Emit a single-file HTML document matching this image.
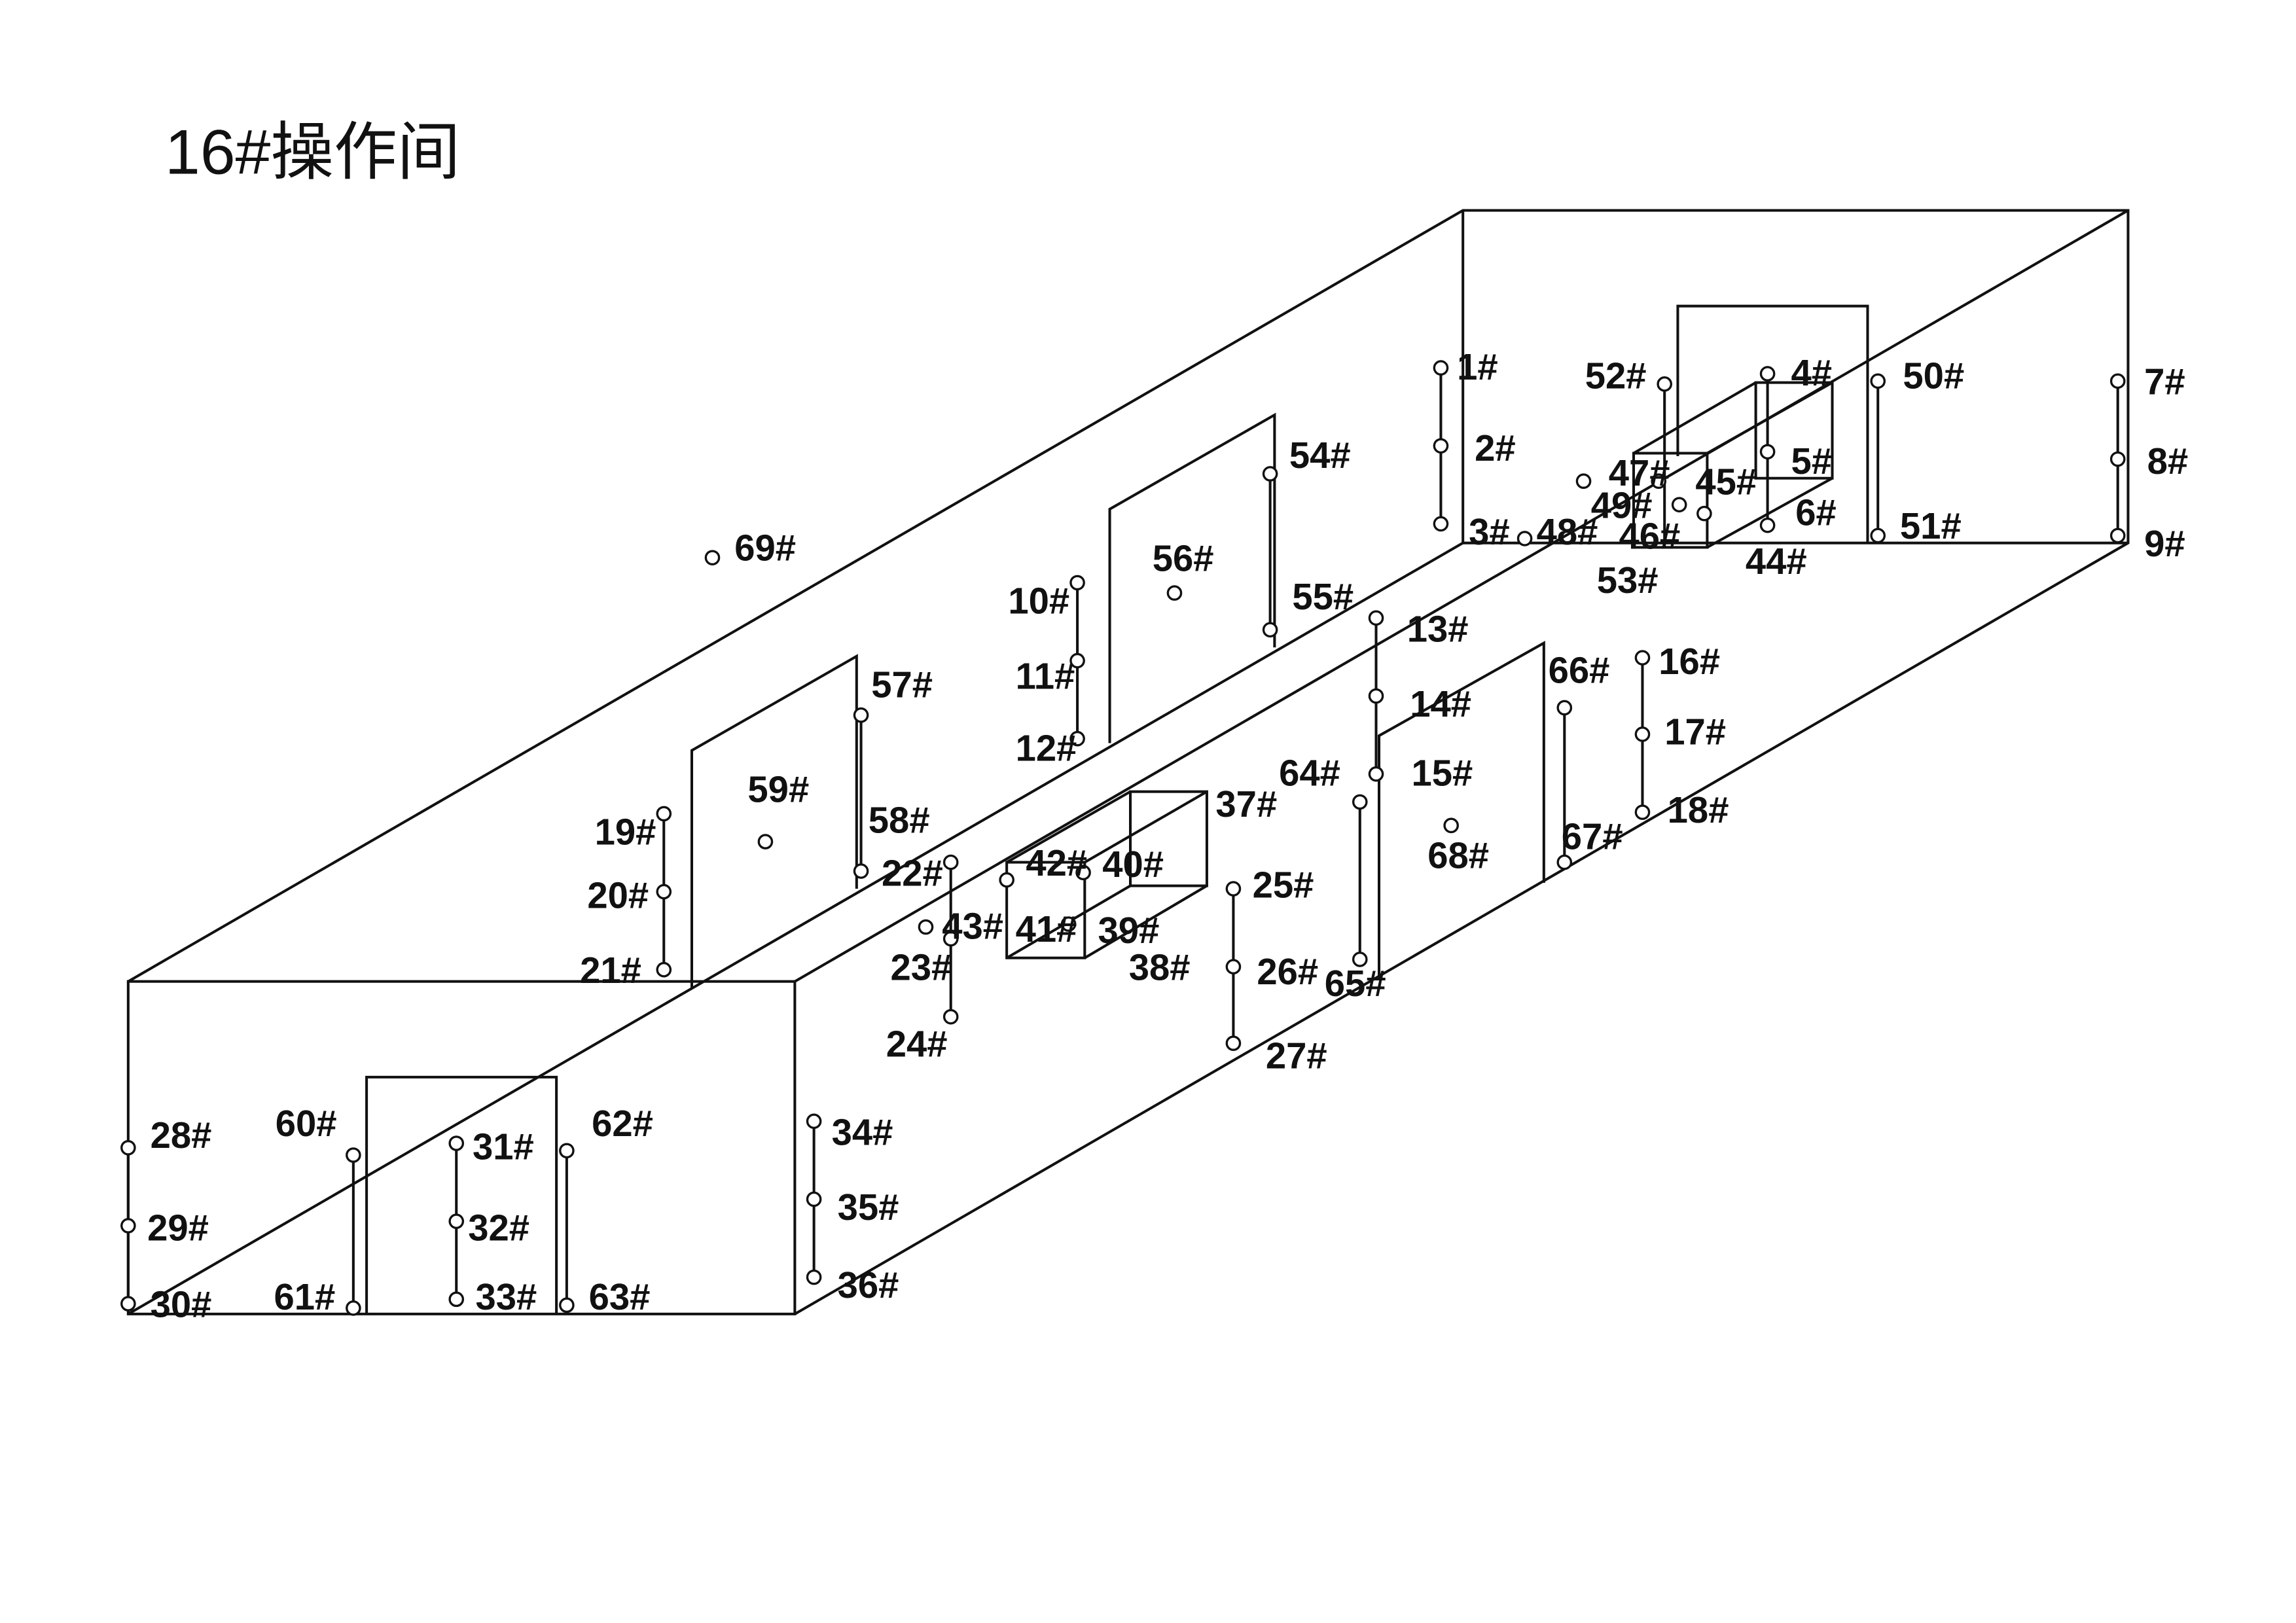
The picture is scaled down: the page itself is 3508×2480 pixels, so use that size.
<!DOCTYPE html>
<html><head><meta charset="utf-8"><style>
html,body{margin:0;padding:0;background:#fff;}
svg{display:block;}
text{font-family:"Liberation Sans","Noto Sans CJK SC",sans-serif;font-weight:bold;font-size:25px;fill:#111;}
</style></head><body>
<svg width="3508" height="2480" viewBox="0 0 1560 1103" xmlns="http://www.w3.org/2000/svg">
<rect width="1560" height="1103" fill="#fff"/>
<text x="112" y="118" style="font-weight:normal;font-size:43px">16#操作间</text>
<g stroke="#111" stroke-width="1.8" fill="none">
<polyline points="87,667 994,143 1446,143 1446,369 540,893"/>
<rect x="87" y="667" width="453" height="226"/>
<line x1="540" y1="667" x2="1446" y2="143"/>
<line x1="87" y1="893" x2="994" y2="369"/>
<line x1="994" y1="143" x2="994" y2="369"/>
<line x1="994" y1="369" x2="1446" y2="369"/>
<polyline points="470,672 470,510 582,446 582,604"/>
<polyline points="754,505 754,346 866,282 866,440"/>
<polyline points="937,665 937,500 1049,437 1049,600"/>
<polyline points="249,807 249,732 378,732 378,893"/>
<line x1="249" y1="807" x2="249" y2="893"/>
<polyline points="1140,310 1140,208 1269,208 1269,369"/>
<rect x="1110" y="308" width="50" height="64"/>
<rect x="1193" y="260" width="52" height="65"/>
<line x1="1110" y1="308" x2="1193" y2="260"/>
<line x1="1160" y1="308" x2="1245" y2="260"/>
<line x1="1160" y1="372" x2="1245" y2="325"/>
<rect x="684" y="586" width="53" height="65"/>
<rect x="768" y="538" width="52" height="64"/>
<line x1="684" y1="586" x2="768" y2="538"/>
<line x1="737" y1="586" x2="820" y2="538"/>
<line x1="737" y1="651" x2="820" y2="602"/>
<line x1="684" y1="651" x2="768" y2="602"/>
<line x1="979" y1="250" x2="979" y2="356"/>
<line x1="1201" y1="254" x2="1201" y2="357"/>
<line x1="1276" y1="259" x2="1276" y2="364"/>
<line x1="1439" y1="259" x2="1439" y2="364"/>
<line x1="1131" y1="261" x2="1131" y2="372"/>
<line x1="732" y1="396" x2="732" y2="502"/>
<line x1="863" y1="322" x2="863" y2="428"/>
<line x1="585" y1="486" x2="585" y2="592"/>
<line x1="451" y1="553" x2="451" y2="659"/>
<line x1="646" y1="586" x2="646" y2="691"/>
<line x1="838" y1="604" x2="838" y2="709"/>
<line x1="924" y1="545" x2="924" y2="652"/>
<line x1="935" y1="420" x2="935" y2="526"/>
<line x1="1063" y1="481" x2="1063" y2="586"/>
<line x1="1116" y1="447" x2="1116" y2="552"/>
<line x1="87" y1="780" x2="87" y2="886"/>
<line x1="240" y1="785" x2="240" y2="889"/>
<line x1="310" y1="777" x2="310" y2="883"/>
<line x1="385" y1="782" x2="385" y2="887"/>
<line x1="553" y1="762" x2="553" y2="868"/>
</g>
<g stroke="#111" stroke-width="1.5" fill="#fff">
<circle cx="979" cy="250" r="4.5"/><circle cx="979" cy="303" r="4.5"/><circle cx="979" cy="356" r="4.5"/>
<circle cx="1201" cy="254" r="4.5"/><circle cx="1201" cy="307" r="4.5"/><circle cx="1201" cy="357" r="4.5"/>
<circle cx="1276" cy="259" r="4.5"/><circle cx="1276" cy="364" r="4.5"/>
<circle cx="1439" cy="259" r="4.5"/><circle cx="1439" cy="312" r="4.5"/><circle cx="1439" cy="364" r="4.5"/>
<circle cx="1131" cy="261" r="4.5"/><circle cx="1127" cy="327" r="4.5"/><circle cx="1141" cy="343" r="4.5"/>
<circle cx="1036" cy="366" r="4.5"/><circle cx="1158" cy="349" r="4.5"/><circle cx="1076" cy="327" r="4.5"/>
<circle cx="732" cy="396" r="4.5"/><circle cx="732" cy="449" r="4.5"/><circle cx="732" cy="502" r="4.5"/>
<circle cx="863" cy="322" r="4.5"/><circle cx="863" cy="428" r="4.5"/>
<circle cx="798" cy="403" r="4.5"/><circle cx="484" cy="379" r="4.5"/>
<circle cx="585" cy="486" r="4.5"/><circle cx="585" cy="592" r="4.5"/>
<circle cx="520" cy="572" r="4.5"/>
<circle cx="451" cy="553" r="4.5"/><circle cx="451" cy="606" r="4.5"/><circle cx="451" cy="659" r="4.5"/>
<circle cx="646" cy="586" r="4.5"/><circle cx="646" cy="638" r="4.5"/><circle cx="646" cy="691" r="4.5"/>
<circle cx="629" cy="630" r="4.5"/><circle cx="684" cy="598" r="4.5"/><circle cx="736" cy="593" r="4.5"/><circle cx="726" cy="628" r="4.5"/>
<circle cx="838" cy="604" r="4.5"/><circle cx="838" cy="657" r="4.5"/><circle cx="838" cy="709" r="4.5"/>
<circle cx="924" cy="545" r="4.5"/><circle cx="924" cy="652" r="4.5"/>
<circle cx="935" cy="420" r="4.5"/><circle cx="935" cy="473" r="4.5"/><circle cx="935" cy="526" r="4.5"/>
<circle cx="1063" cy="481" r="4.5"/><circle cx="1063" cy="586" r="4.5"/>
<circle cx="1116" cy="447" r="4.5"/><circle cx="1116" cy="499" r="4.5"/><circle cx="1116" cy="552" r="4.5"/>
<circle cx="986" cy="561" r="4.5"/>
<circle cx="87" cy="780" r="4.5"/><circle cx="87" cy="833" r="4.5"/><circle cx="87" cy="886" r="4.5"/>
<circle cx="240" cy="785" r="4.5"/><circle cx="240" cy="889" r="4.5"/>
<circle cx="310" cy="777" r="4.5"/><circle cx="310" cy="830" r="4.5"/><circle cx="310" cy="883" r="4.5"/>
<circle cx="385" cy="782" r="4.5"/><circle cx="385" cy="887" r="4.5"/>
<circle cx="553" cy="762" r="4.5"/><circle cx="553" cy="815" r="4.5"/><circle cx="553" cy="868" r="4.5"/>
</g>
<g>
<text x="990" y="258">1#</text><text x="1002" y="313">2#</text><text x="998" y="370">3#</text>
<text x="1217" y="262">4#</text><text x="1217" y="322">5#</text><text x="1220" y="357">6#</text>
<text x="1293" y="264">50#</text><text x="1291" y="366">51#</text>
<text x="1457" y="268">7#</text><text x="1459" y="322">8#</text><text x="1457" y="378">9#</text>
<text x="1077" y="264">52#</text><text x="1093" y="330">47#</text><text x="1081" y="352">49#</text>
<text x="1044" y="370">48#</text><text x="1100" y="373">46#</text><text x="1152" y="336">45#</text>
<text x="1186" y="390">44#</text><text x="1085" y="403">53#</text>
<text x="685" y="417">10#</text><text x="690" y="468">11#</text><text x="690" y="517">12#</text>
<text x="876" y="318">54#</text><text x="878" y="414">55#</text>
<text x="783" y="388">56#</text><text x="499" y="381">69#</text>
<text x="592" y="474">57#</text><text x="590" y="566">58#</text><text x="508" y="545">59#</text>
<text x="404" y="574">19#</text><text x="399" y="617">20#</text><text x="394" y="668">21#</text>
<text x="599" y="602">22#</text><text x="605" y="666">23#</text><text x="602" y="718">24#</text>
<text x="640" y="638">43#</text><text x="697" y="595">42#</text><text x="749" y="596">40#</text>
<text x="690" y="640">41#</text><text x="746" y="641">39#</text><text x="767" y="666">38#</text>
<text x="826" y="555">37#</text>
<text x="851" y="610">25#</text><text x="854" y="669">26#</text><text x="860" y="726">27#</text>
<text x="869" y="534">64#</text><text x="900" y="677">65#</text>
<text x="956" y="436">13#</text><text x="958" y="487">14#</text><text x="959" y="534">15#</text>
<text x="1052" y="464">66#</text><text x="1061" y="577">67#</text>
<text x="1127" y="458">16#</text><text x="1131" y="506">17#</text><text x="1133" y="559">18#</text>
<text x="970" y="590">68#</text>
<text x="102" y="780">28#</text><text x="100" y="843">29#</text><text x="102" y="895">30#</text>
<text x="187" y="772">60#</text><text x="186" y="890">61#</text>
<text x="321" y="788">31#</text><text x="318" y="843">32#</text><text x="323" y="890">33#</text>
<text x="402" y="772">62#</text><text x="400" y="890">63#</text>
<text x="565" y="778">34#</text><text x="569" y="829">35#</text><text x="569" y="882">36#</text>
</g>
</svg>
</body></html>
